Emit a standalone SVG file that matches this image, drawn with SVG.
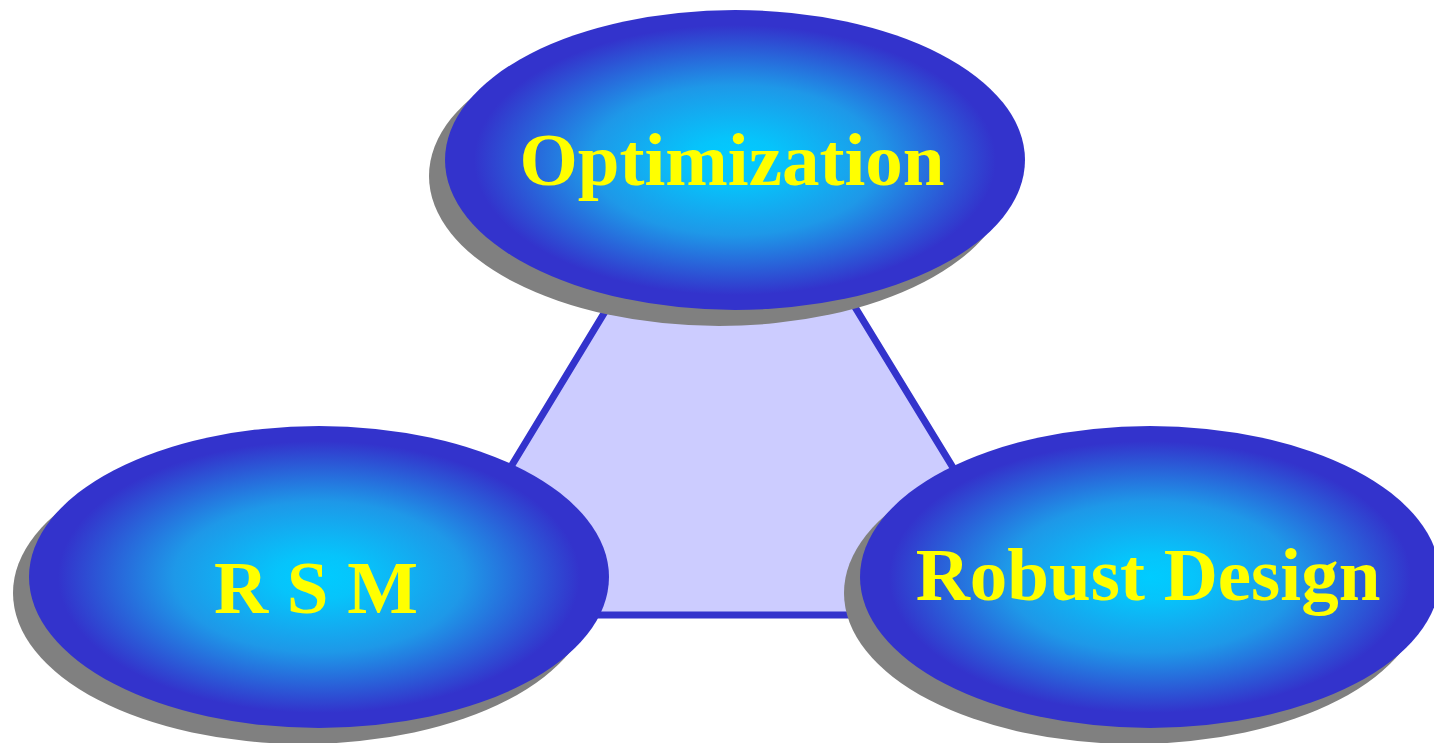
<svg xmlns="http://www.w3.org/2000/svg" width="1434" height="743" viewBox="0 0 1434 743">
  <defs>
    <radialGradient id="blueGlow" cx="50%" cy="50%" r="50%">
      <stop offset="0" stop-color="#00CCFF"/>
      <stop offset="0.15" stop-color="#06C4FB"/>
      <stop offset="0.5" stop-color="#1E98E8"/>
      <stop offset="0.9" stop-color="#3333CC"/>
      <stop offset="1" stop-color="#3333CC"/>
    </radialGradient>
    <style>
      .shadow { fill: #808080; }
      .bubble { fill: url(#blueGlow); }
      .label { font-family: "Liberation Serif", "Times New Roman", serif; font-weight: bold; font-size: 75px; fill: #FFFF00; text-anchor: middle; }
      .link { fill: #CCCCFF; stroke: #3333CC; stroke-width: 7; stroke-linejoin: miter; }
    </style>
  </defs>
  <rect width="1434" height="743" fill="#FFFFFF"/>

  <!-- triangle joining the three topics -->
  <g id="connectors">
    <polygon class="link" points="731,104 421,615 1043,615"/>
  </g>

  <g id="optimization">
    <ellipse class="shadow" cx="719" cy="176" rx="290" ry="150"/>
    <ellipse class="bubble" cx="735" cy="160" rx="290" ry="150"/>
    <text class="label" x="732" y="185">Optimization</text>
  </g>

  <g id="rsm">
    <ellipse class="shadow" cx="303" cy="593" rx="290" ry="151"/>
    <ellipse class="bubble" cx="319" cy="577" rx="290" ry="151"/>
    <text class="label" x="316" y="613">R S M</text>
  </g>

  <g id="robust-design">
    <ellipse class="shadow" cx="1134" cy="593" rx="290" ry="151"/>
    <ellipse class="bubble" cx="1150" cy="577" rx="290" ry="151"/>
    <text class="label" x="1148" y="600">Robust Design</text>
  </g>
</svg>
